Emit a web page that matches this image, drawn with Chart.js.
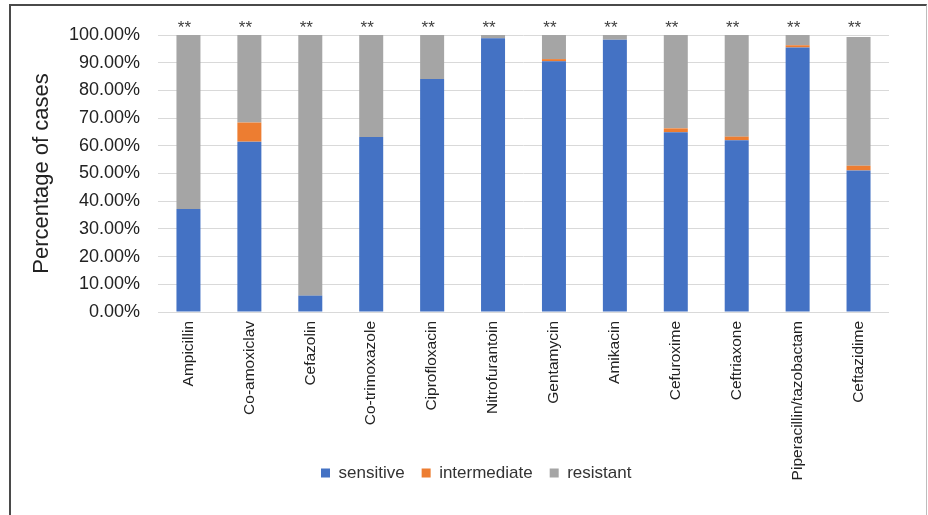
<!DOCTYPE html>
<html>
<head>
<meta charset="utf-8">
<script src="https://cdn.jsdelivr.net/npm/chart.js@4.4.1/dist/chart.umd.min.js"></script>
<style>
  html, body { margin: 0; padding: 0; background: #fff; overflow: hidden; }
  #wrap { position: relative; width: 928px; height: 515px; }
  #c { position: absolute; left: 0; top: 0; }
  #frame {
    position: absolute; left: 9px; top: 4px; width: 918px; height: 600px;
    box-sizing: border-box;
    border-top: 2px solid #4a4a4a; border-left: 2px solid #4a4a4a; border-right: 1px solid #bdbdbd;
    pointer-events: none;
  }
</style>
</head>
<body>
<div id="wrap">
  <canvas id="c" width="928" height="515"></canvas>
  <div id="frame"></div>
</div>
<script>
const categories = ['Ampicillin', 'Co-amoxiclav', 'Cefazolin', 'Co-trimoxazole', 'Ciprofloxacin',
  'Nitrofurantoin', 'Gentamycin', 'Amikacin', 'Cefuroxime', 'Ceftriaxone',
  'Piperacillin/tazobactam', 'Ceftazidime'];
const sensitive    = [37.2, 61.5, 5.9, 63.2, 84.1, 98.8, 90.5, 98.3, 64.9, 62.0, 95.5, 51.1];
const intermediate = [0.0, 6.9, 0.0, 0.0, 0.0, 0.0, 0.8, 0.0, 1.4, 1.3, 0.8, 1.7];
const resistant    = [62.8, 31.6, 94.1, 36.8, 15.9, 1.2, 8.7, 1.7, 33.7, 36.7, 3.7, 46.5];
const significance = ['**', '**', '**', '**', '**', '**', '**', '**', '**', '**', '**', '**'];
const yTickLabels  = ['0.00%', '10.00%', '20.00%', '30.00%', '40.00%', '50.00%',
  '60.00%', '70.00%', '80.00%', '90.00%', '100.00%'];
const seriesNames  = ['sensitive', 'intermediate', 'resistant'];
const yTitle = 'Percentage of cases';

const FONT = "'Liberation Sans', Arial, sans-serif";
Chart.defaults.font.family = FONT;

const starsPlugin = {
  id: 'stars',
  afterDatasetsDraw(chart) {
    const ctx = chart.ctx;
    const xs = chart.scales.x;
    const top = chart.chartArea.top;
    ctx.save();
    ctx.font = '17px ' + FONT;
    ctx.fillStyle = '#404040';
    ctx.textAlign = 'center';
    ctx.textBaseline = 'alphabetic';
    significance.forEach((s, i) => {
      ctx.fillText(s, xs.getPixelForValue(i) - 4, top - 2);
    });
    ctx.restore();
  }
};

const legendMove = {
  id: 'legendMove',
  afterLayout(chart) {
    const lg = chart.legend;
    if (!lg) return;
    const pad = lg.options.labels.padding;
    const curStart = (lg.left + pad + lg.right - lg.lineWidths[0]) / 2;
    const dx = 321 - curStart;
    lg.left += dx; lg.right += dx;
    const h = lg.height;
    lg.top = 447.5; lg.bottom = lg.top + h;
  }
};

new Chart(document.getElementById('c'), {
  type: 'bar',
  data: {
    labels: categories,
    datasets: [
      { label: seriesNames[0], data: sensitive, backgroundColor: '#4472C4', borderWidth: 0 },
      { label: seriesNames[1], data: intermediate, backgroundColor: '#ED7D31', borderWidth: 0 },
      { label: seriesNames[2], data: resistant, backgroundColor: '#A5A5A5', borderWidth: 0 }
    ]
  },
  options: {
    responsive: false,
    animation: false,
    devicePixelRatio: 1,
    layout: { padding: { left: 10, right: 39, top: 35, bottom: -16 } },
    datasets: { bar: { barPercentage: 0.394, categoryPercentage: 1 } },
    plugins: {
      tooltip: { enabled: false },
      legend: {
        position: 'bottom',
        align: 'center',
        labels: {
          boxWidth: 9, boxHeight: 9, padding: 17,
          color: '#333333',
          font: { size: 17, family: FONT }
        }
      }
    },
    scales: {
      x: {
        stacked: true,
        grid: { display: false, drawTicks: false },
        border: { display: false },
        ticks: {
          autoSkip: false, minRotation: 90, maxRotation: 90, padding: 9,
          color: '#222222', font: { size: 15.5, family: FONT }
        },
        afterFit: (s) => { s.height = 175; }
      },
      y: {
        stacked: true,
        min: 0, max: 100,
        grid: { color: '#D9D9D9', lineWidth: 1, drawTicks: false },
        border: { display: false },
        ticks: {
          stepSize: 10, padding: 18, color: '#222222',
          font: { size: 18, family: FONT },
          callback: (v, i) => yTickLabels[i]
        },
        title: {
          display: true, text: yTitle, color: '#222222',
          font: { size: 22, family: FONT },
          padding: { top: 19, bottom: 0 }
        },
        afterFit: (s) => { s.width = 148; }
      }
    }
  },
  plugins: [starsPlugin, legendMove]
});
</script>
</body>
</html>
